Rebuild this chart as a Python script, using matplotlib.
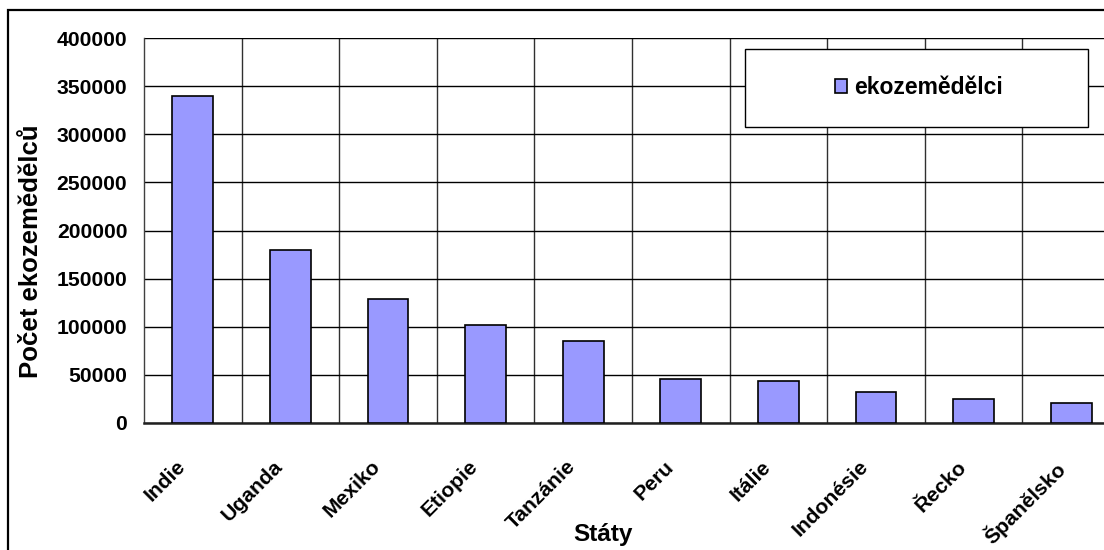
import matplotlib
matplotlib.use("Agg")
import matplotlib.pyplot as plt
import matplotlib.transforms as mtransforms
from matplotlib.patches import Rectangle
import numpy as np

plt.rcParams['font.family'] = ['Liberation Sans', 'DejaVu Sans']
plt.rcParams['font.weight'] = 'bold'

# Data
states = ["Indie", "Uganda", "Mexiko", "Etiopie", "Tanzánie", "Peru",
          "Itálie", "Indonésie", "Řecko", "Španělsko"]
farmers = [340000, 180000, 129000, 102000, 85000, 45800,
           43700, 32400, 24600, 21000]
series_name = "ekozemědělci"
y_ticks = [0, 50000, 100000, 150000, 200000, 250000, 300000, 350000, 400000]

W, H = 1104, 550
fig = plt.figure(figsize=(W / 100, H / 100), dpi=100)
fig.patch.set_facecolor("white")

# plot area in pixels: x 144..1120, y 38..423 (from top)
left_px, right_px, top_px, bottom_px = 144, 1120, 38, 423
ax = fig.add_axes([left_px / W, 1 - bottom_px / H,
                   (right_px - left_px) / W, (bottom_px - top_px) / H])

x = np.arange(len(states))
bars = ax.bar(x, farmers, width=0.42, color="#9999FF", edgecolor="black",
              linewidth=1.2, zorder=3, label=series_name)

ax.set_xlim(-0.5, len(states) - 0.5)
ax.set_ylim(0, 400000)
ax.set_yticks(y_ticks)
ax.set_yticklabels([str(v) for v in y_ticks], fontsize=15.2, fontweight="bold")
ax.tick_params(axis="y", length=0, pad=12)

# gridlines: horizontal at major ticks, vertical between categories
ax.set_xticks(x)
ax.set_xticklabels([])
ax.tick_params(axis="x", length=0)
ax.set_xticks(np.arange(0.5, len(states) - 0.5, 1), minor=True)
ax.tick_params(axis="x", which="minor", length=0)
ax.grid(True, axis="y", which="major", color="black", linewidth=1.0, zorder=0)
ax.grid(True, axis="x", which="minor", color="#303030", linewidth=1.0, zorder=0)
ax.grid(False, axis="x", which="major")

for side in ("top", "right"):
    ax.spines[side].set_visible(False)
ax.spines["left"].set_color("#404040")
ax.spines["left"].set_linewidth(1.0)
ax.spines["bottom"].set_color("#202020")
ax.spines["bottom"].set_linewidth(1.8)

# rotated category labels
for xi, name in zip(x, states):
    off = mtransforms.ScaledTranslation(-17 / 100, -34 / 100, fig.dpi_scale_trans)
    trans = mtransforms.blended_transform_factory(ax.transData, ax.transAxes) + off
    ax.text(xi, 0, name, transform=trans, rotation=45, ha="right", va="top",
            rotation_mode="anchor", fontsize=15.2, fontweight="bold")

# axis titles
fig.text(603 / W, 1 - 535 / H, "Státy", ha="center", va="center",
         fontsize=17.6, fontweight="bold")
fig.text(31 / W, 1 - 251 / H, "Počet ekozemědělců", ha="center", va="center",
         rotation=90, fontsize=18.5, fontweight="bold")

# legend with a separate frame box
leg_x0, leg_x1, leg_y0, leg_y1 = 745, 1088, 49, 127
fig.add_artist(Rectangle((leg_x0 / W, 1 - leg_y1 / H),
                         (leg_x1 - leg_x0) / W, (leg_y1 - leg_y0) / H,
                         transform=fig.transFigure, facecolor="white",
                         edgecolor="black", linewidth=1.0, zorder=4))
leg = fig.legend(handles=[bars], loc="center",
                 bbox_to_anchor=((leg_x0 + leg_x1) / 2 / W + 0.002,
                                 1 - (leg_y0 + leg_y1) / 2 / H),
                 bbox_transform=fig.transFigure, frameon=False,
                 prop={"size": 16.5, "weight": "bold"},
                 handlelength=0.55, handleheight=0.55, handletextpad=0.3)
leg.set_zorder(5)

# chart area border
fig.add_artist(Rectangle((8 / W, -10 / H), (1120 - 8) / W, (H - 10 + 10) / H,
                         transform=fig.transFigure, facecolor="none",
                         edgecolor="black", linewidth=1.6, clip_on=False))

fig.savefig("out.png", dpi=100, facecolor="white")
